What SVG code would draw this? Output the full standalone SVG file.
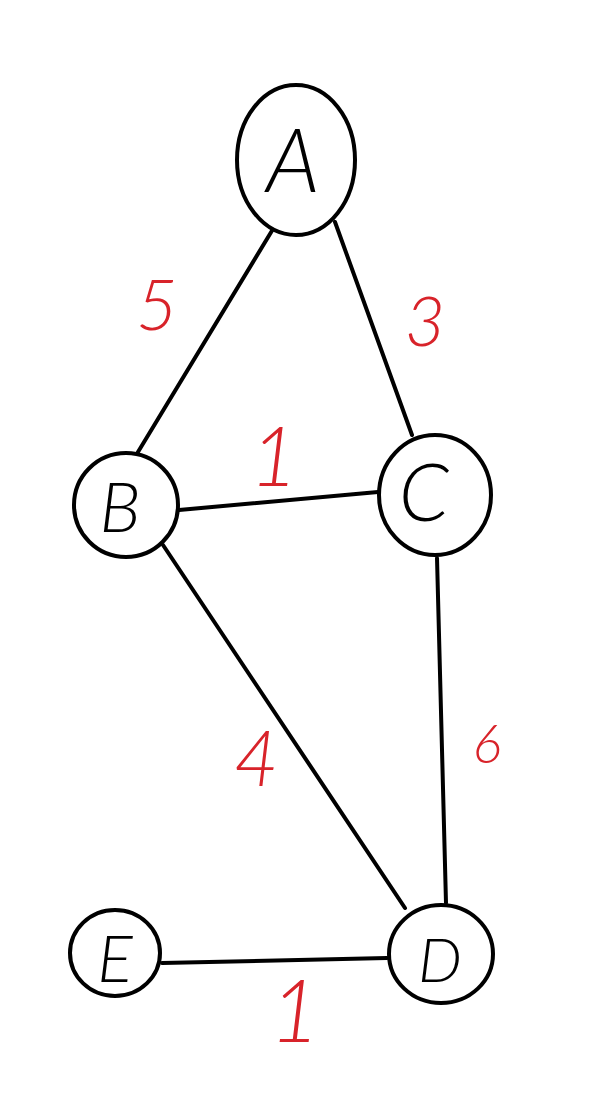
<svg xmlns="http://www.w3.org/2000/svg" width="603" height="1106" viewBox="0 0 603 1106">
<style>
.node{fill:#fff;stroke:#000;stroke-width:4}
.edge{stroke:#000;stroke-width:4;fill:none;stroke-linecap:round}
.lbl{font-family:Lato,"Open Sans","Liberation Sans",sans-serif;font-weight:300;font-style:italic;fill:#000;text-anchor:middle}
.w{font-family:Lato,"Open Sans","Liberation Sans",sans-serif;font-weight:300;font-style:italic;fill:#d8232a;text-anchor:middle}
</style>
<rect width="603" height="1106" fill="#fff"/>
<g id="edges">
<line class="edge" x1="273" y1="229" x2="138" y2="452"/>
<line class="edge" x1="335" y1="222" x2="412" y2="435"/>
<line class="edge" x1="179" y1="510" x2="378" y2="492"/>
<line class="edge" x1="163" y1="545" x2="405" y2="908"/>
<line class="edge" x1="437" y1="558" x2="446" y2="903"/>
<line class="edge" x1="162" y1="963" x2="387" y2="958"/>
</g>
<g id="weights">
<text class="w" x="157" y="330" font-size="72">5</text>
<text class="w" x="425" y="346" font-size="70">3</text>
<text class="w" x="274" y="486" font-size="82">1</text>
<text class="w" x="256" y="786" font-size="76">4</text>
<text class="w" x="487" y="763" font-size="54">6</text>
<text class="w" x="295" y="1042" font-size="86">1</text>
</g>
<g id="node-A">
<ellipse class="node" cx="296" cy="160" rx="59" ry="75"/>
<text class="lbl" x="293" y="192" font-size="88">A</text>
</g>
<g id="node-B">
<circle class="node" cx="126" cy="505" r="52"/>
<text class="lbl" x="120" y="532" font-size="70">B</text>
</g>
<g id="node-C">
<ellipse class="node" cx="435" cy="495" rx="56" ry="60"/>
<text class="lbl" x="424" y="521" font-size="80">C</text>
</g>
<g id="node-D">
<ellipse class="node" cx="441" cy="954" rx="52" ry="49"/>
<text class="lbl" x="440" y="982" font-size="62">D</text>
</g>
<g id="node-E">
<ellipse class="node" cx="115" cy="953" rx="45" ry="43"/>
<text class="lbl" x="115" y="982" font-size="66">E</text>
</g>
</svg>
